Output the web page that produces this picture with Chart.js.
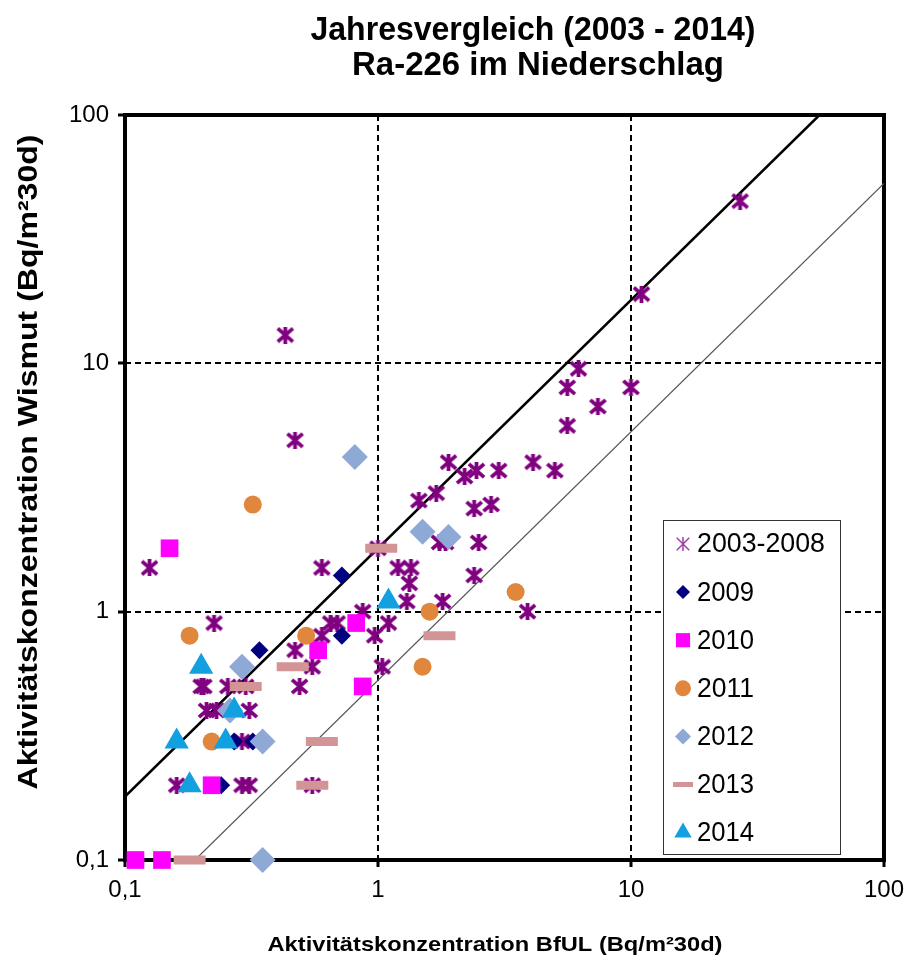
<!DOCTYPE html>
<html>
<head>
<meta charset="utf-8">
<script src="https://cdn.jsdelivr.net/npm/chart.js@4.4.1/dist/chart.umd.min.js"></script>
<style>
  html, body { margin: 0; padding: 0; background: #fff; }
</style>
</head>
<body>
<canvas id="grafico" width="913" height="963"></canvas>
<script>
// Jahre / Serien
const serien = ['2003-2008', '2009', '2010', '2011', '2012', '2013', '2014'];

// Werte BfUL (x) und Wismut (y), Bq/m²30d
const x2003 = [27, 11, 6.2, 5.6, 10, 7.4, 5.6, 0.43, 0.47, 1.9, 4.1, 5.0, 1.45, 1.7, 2.2, 2.45, 3.0, 2.4, 2.8,
  1.75, 1.85, 2.5, 1.2, 1.35, 1.33, 1.3, 1.8, 2.4, 3.9, 1.1, 1.04, 1.0, 0.6, 0.125, 0.87, 0.65, 0.69, 0.225,
  0.6, 0.97, 0.47, 0.55, 0.49, 0.2, 0.205, 0.255, 0.3, 0.21, 0.23, 0.31, 0.29, 0.16, 0.29, 0.31, 0.55];
const y2003 = [45, 19, 9.5, 8, 8, 6.7, 5.6, 13, 4.9, 4.0, 4.0, 3.7, 2.8, 3.0, 3.5, 3.7, 3.7, 2.6, 2.7,
  1.9, 1.9, 1.9, 1.5, 1.5, 1.3, 1.1, 1.1, 1.4, 1.0, 0.9, 0.6, 1.8, 1.5, 1.5, 1.0, 0.9, 0.9, 0.9,
  0.8, 0.8, 0.7, 0.6, 0.5, 0.5, 0.5, 0.5, 0.5, 0.4, 0.4, 0.4, 0.3, 0.2, 0.2, 0.2, 0.2];

const x2009 = [0.72, 0.72, 0.34, 0.27, 0.32, 0.24];
const y2009 = [1.4, 0.8, 0.7, 0.3, 0.3, 0.2];

const x2010 = [0.15, 0.82, 0.58, 0.87, 0.22, 0.11, 0.14];
const y2010 = [1.8, 0.9, 0.7, 0.5, 0.2, 0.1, 0.1];

const x2011 = [0.32, 0.18, 0.52, 0.22, 3.5, 1.6, 1.5];
const y2011 = [2.7, 0.8, 0.8, 0.3, 1.2, 1.0, 0.6];

const x2012 = [0.81, 1.5, 1.9, 0.29, 0.26, 0.35, 0.35];
const y2012 = [4.2, 2.1, 2.0, 0.6, 0.4, 0.3, 0.1];

const x2013 = [1.03, 0.46, 0.3, 0.6, 0.55, 0.18, 1.75];
const y2013 = [1.8, 0.6, 0.5, 0.3, 0.2, 0.1, 0.8];

const x2014 = [1.1, 0.2, 0.27, 0.16, 0.25, 0.18];
const y2014 = [1.1, 0.6, 0.4, 0.3, 0.3, 0.2];

// Vergleichslinien (Endpunkte)
const linieOben = [{ x: 0.1, y: 0.18 }, { x: 55.6, y: 100 }];
const linieUnten = [{ x: 0.189, y: 0.1 }, { x: 100, y: 53 }];

const achsenTicks = [0.1, 1, 10, 100];

function punkte(xs, ys) {
  return xs.map((x, i) => ({ x: x, y: ys[i] }));
}

function sternBild(w, h, lw, farbe) {
  const c = document.createElement('canvas');
  c.width = w; c.height = h;
  const g = c.getContext('2d');
  g.strokeStyle = farbe;
  g.lineWidth = lw;
  const m = lw / 2;
  g.beginPath();
  g.moveTo(m, m); g.lineTo(w - m, h - m);
  g.moveTo(w - m, m); g.lineTo(m, h - m);
  g.moveTo(w / 2, 0); g.lineTo(w / 2, h);
  g.stroke();
  return c;
}

const sternGross = sternBild(19, 17, 3.8, '#800080');
const sternKlein = sternBild(14, 14, 1.5, '#a040a8');

const stile = [
  { farbe: '#800080', form: sternGross, r: 9, legForm: sternKlein, legR: 7 },
  { farbe: '#000080', form: 'rectRot', r: 9, legR: 7 },
  { farbe: '#ff00ff', form: 'rect', r: 12.5, legR: 10 },
  { farbe: '#e0873d', form: 'circle', r: 9, legR: 8 },
  { farbe: '#8fa9d6', form: 'rectRot', r: 13, legR: 8 },
  { farbe: '#d29494', form: 'line', r: 16, legR: 10, bw: 9, legBw: 5 },
  { farbe: '#12a0e0', form: 'triangle', r: 14, legR: 10 }
];

const werte = [
  punkte(x2003, y2003), punkte(x2009, y2009), punkte(x2010, y2010), punkte(x2011, y2011),
  punkte(x2012, y2012), punkte(x2013, y2013), punkte(x2014, y2014)
];

const datensaetze = serien.map((name, i) => {
  const s = stile[i];
  const istLinie = s.form === 'line';
  return {
    label: name,
    data: werte[i],
    pointStyle: s.form,
    pointRadius: s.r,
    backgroundColor: s.farbe,
    borderColor: s.farbe,
    borderWidth: istLinie ? s.bw : 0,
    order: 10 - i,
    clip: false
  };
});

datensaetze.push({
  label: 'oben', data: linieOben, showLine: true, pointRadius: 0,
  borderColor: '#000', borderWidth: 2.5, order: 20
});
datensaetze.push({
  label: 'unten', data: linieUnten, showLine: true, pointRadius: 0,
  borderColor: '#555', borderWidth: 1.2, order: 21
});

function textGestreckt(ctx, text, cx, cy, breite, font, winkel) {
  ctx.save();
  ctx.font = font;
  ctx.fillStyle = '#000';
  ctx.textAlign = 'center';
  ctx.textBaseline = 'middle';
  const w = ctx.measureText(text).width;
  ctx.translate(cx, cy);
  ctx.rotate(winkel || 0);
  ctx.scale(breite / w, 1);
  ctx.fillText(text, 0, 0);
  ctx.restore();
}

const rahmen = {
  id: 'rahmen',
  beforeDatasetsDraw(chart) {
    const { ctx, chartArea: a } = chart;
    ctx.save();
    ctx.strokeStyle = '#000';
    ctx.lineWidth = 4;
    ctx.strokeRect(a.left, a.top, a.right - a.left, a.bottom - a.top);
    ctx.restore();
  }
};

const schrift = '"Liberation Sans", Arial, sans-serif';

const beschriftung = {
  id: 'beschriftung',
  afterDraw(chart) {
    const ctx = chart.ctx;
    textGestreckt(ctx, 'Jahresvergleich (2003 - 2014)', 533, 31, 445, 'bold 34px ' + schrift);
    textGestreckt(ctx, 'Ra-226 im Niederschlag', 538, 66, 372, 'bold 34px ' + schrift);
    textGestreckt(ctx, 'Aktivitätskonzentration BfUL (Bq/m²30d)', 495, 945, 455, 'bold 21px ' + schrift);
    textGestreckt(ctx, 'Aktivitätskonzentration Wismut (Bq/m²30d)', 29, 462, 655, 'bold 28px ' + schrift, -Math.PI / 2);
  }
};

const legende = {
  id: 'legende',
  afterDatasetsDraw(chart) {
    const ctx = chart.ctx;
    ctx.save();
    ctx.fillStyle = '#fff';
    ctx.fillRect(663, 520, 178, 335);
    ctx.strokeStyle = '#333';
    ctx.lineWidth = 1;
    ctx.strokeRect(663.5, 520.5, 177, 334);
    serien.forEach((name, i) => {
      const s = stile[i];
      const y = 544 + i * 48.1;
      ctx.fillStyle = s.farbe;
      ctx.strokeStyle = s.farbe;
      ctx.lineWidth = s.legBw || 1;
      Chart.helpers.drawPoint(ctx, {
        pointStyle: s.legForm || s.form,
        radius: s.legR,
        rotation: 0,
        borderWidth: s.form === 'line' ? s.legBw : 0
      }, 683, y);
      ctx.fillStyle = '#000';
      textGestreckt(ctx, name, 697 + (name.length > 4 ? 64 : 28.5), y + 1,
        name.length > 4 ? 128 : 57, '27px ' + schrift);
    });
    ctx.restore();
  }
};

function achse(pos) {
  return {
    type: 'logarithmic',
    position: pos,
    min: 0.1,
    max: 100,
    afterBuildTicks: s => { s.ticks = achsenTicks.map(v => ({ value: v })); },
    afterFit: s => {
      if (pos === 'left') s.width = 125; else s.height = 103;
    },
    border: { display: false, dash: [6, 4] },
    grid: {
      color: c => (c.tick && (c.tick.value === 1 || c.tick.value === 10)) ? '#000' : 'rgba(0,0,0,0)',
      lineWidth: 2,
      tickColor: '#000',
      tickWidth: 3,
      tickLength: 7,
      drawTicks: true
    },
    ticks: {
      color: '#000',
      padding: 9,
      autoSkip: false,
      maxRotation: 0,
      font: { family: schrift, size: 24 },
      callback: v => String(v).replace('.', ',')
    }
  };
}

new Chart(document.getElementById('grafico'), {
  type: 'scatter',
  data: { datasets: datensaetze },
  options: {
    responsive: false,
    animation: false,
    events: [],
    layout: { padding: { top: 115, right: 27, left: 0, bottom: 0 } },
    plugins: {
      legend: { display: false },
      tooltip: { enabled: false }
    },
    scales: {
      x: achse('bottom'),
      y: achse('left')
    }
  },
  plugins: [rahmen, legende, beschriftung]
});
</script>
</body>
</html>
